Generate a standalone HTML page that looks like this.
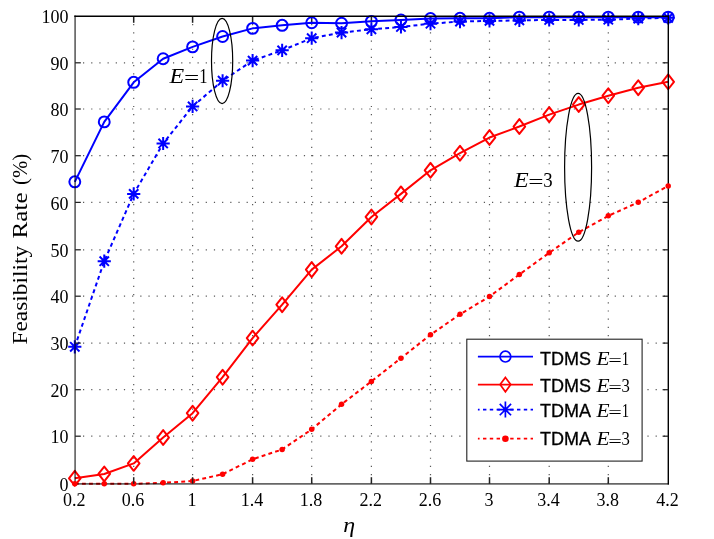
<!DOCTYPE html>
<html><head><meta charset="utf-8"><title>Feasibility Rate</title>
<style>html,body{margin:0;padding:0;background:#fff;}svg{display:block;will-change:transform;}text{font-family:"Liberation Serif",serif;fill:#000;}.sans{font-family:"Liberation Sans",sans-serif;}</style></head><body>
<svg width="714" height="539" viewBox="0 0 714 539">
<rect x="0" y="0" width="714" height="539" fill="#fff"/>
<g stroke="#5a5a5a" stroke-width="1.2" stroke-dasharray="1.2 6.98" fill="none">
<line x1="83.00" y1="436.20" x2="668.30" y2="436.20"/>
<line x1="83.00" y1="389.70" x2="668.30" y2="389.70"/>
<line x1="83.00" y1="343.10" x2="668.30" y2="343.10"/>
<line x1="83.00" y1="296.20" x2="668.30" y2="296.20"/>
<line x1="83.00" y1="249.80" x2="668.30" y2="249.80"/>
<line x1="83.00" y1="202.40" x2="668.30" y2="202.40"/>
<line x1="83.00" y1="155.70" x2="668.30" y2="155.70"/>
<line x1="83.00" y1="109.00" x2="668.30" y2="109.00"/>
<line x1="83.00" y1="62.80" x2="668.30" y2="62.80"/>
<line x1="133.70" y1="24.10" x2="133.70" y2="483.80"/>
<line x1="192.60" y1="24.10" x2="192.60" y2="483.80"/>
<line x1="252.60" y1="24.10" x2="252.60" y2="483.80"/>
<line x1="311.70" y1="24.10" x2="311.70" y2="483.80"/>
<line x1="371.40" y1="24.10" x2="371.40" y2="483.80"/>
<line x1="430.50" y1="24.10" x2="430.50" y2="483.80"/>
<line x1="489.50" y1="24.10" x2="489.50" y2="483.80"/>
<line x1="549.20" y1="24.10" x2="549.20" y2="483.80"/>
<line x1="608.30" y1="24.10" x2="608.30" y2="483.80"/>
</g>
<g font-size="18" text-anchor="end">
<text x="68.4" y="491.00">0</text>
<text x="68.4" y="443.40">10</text>
<text x="68.4" y="396.90">20</text>
<text x="68.4" y="350.30">30</text>
<text x="68.4" y="303.40">40</text>
<text x="68.4" y="257.00">50</text>
<text x="68.4" y="209.60">60</text>
<text x="68.4" y="162.90">70</text>
<text x="68.4" y="116.20">80</text>
<text x="68.4" y="70.00">90</text>
<text x="68.4" y="23.40">100</text>
</g>
<g font-size="18" text-anchor="middle">
<text x="74.20" y="506">0.2</text>
<text x="133.10" y="506">0.6</text>
<text x="192.00" y="506">1</text>
<text x="252.00" y="506">1.4</text>
<text x="311.10" y="506">1.8</text>
<text x="370.80" y="506">2.2</text>
<text x="429.90" y="506">2.6</text>
<text x="488.90" y="506">3</text>
<text x="548.60" y="506">3.4</text>
<text x="607.70" y="506">3.8</text>
<text x="667.60" y="506">4.2</text>
</g>
<g stroke="#222" stroke-width="1.5" fill="none">
<line x1="133.70" y1="16.20" x2="133.70" y2="22.80"/>
<line x1="192.60" y1="16.20" x2="192.60" y2="22.80"/>
<line x1="252.60" y1="16.20" x2="252.60" y2="22.80"/>
<line x1="311.70" y1="16.20" x2="311.70" y2="22.80"/>
<line x1="371.40" y1="16.20" x2="371.40" y2="22.80"/>
<line x1="430.50" y1="16.20" x2="430.50" y2="22.80"/>
<line x1="489.50" y1="16.20" x2="489.50" y2="22.80"/>
<line x1="549.20" y1="16.20" x2="549.20" y2="22.80"/>
<line x1="608.30" y1="16.20" x2="608.30" y2="22.80"/>
</g>
<g fill="none" stroke-width="2.0" stroke-linejoin="round">
<polyline points="74.80,181.82 104.25,121.88 133.70,82.32 163.15,58.75 192.60,46.83 222.60,36.49 252.60,28.36 282.15,25.32 311.70,22.75 341.55,23.21 371.40,21.34 400.95,19.94 430.50,18.54 460.00,18.30 489.50,18.30 519.35,17.14 549.20,17.14 578.75,17.14 608.30,17.14 638.25,17.14 668.20,17.14" stroke="#00f"/>
<g stroke="#00f"><circle cx="74.80" cy="181.82" r="5.45"/><circle cx="104.25" cy="121.88" r="5.45"/><circle cx="133.70" cy="82.32" r="5.45"/><circle cx="163.15" cy="58.75" r="5.45"/><circle cx="192.60" cy="46.83" r="5.45"/><circle cx="222.60" cy="36.49" r="5.45"/><circle cx="252.60" cy="28.36" r="5.45"/><circle cx="282.15" cy="25.32" r="5.45"/><circle cx="311.70" cy="22.75" r="5.45"/><circle cx="341.55" cy="23.21" r="5.45"/><circle cx="371.40" cy="21.34" r="5.45"/><circle cx="400.95" cy="19.94" r="5.45"/><circle cx="430.50" cy="18.54" r="5.45"/><circle cx="460.00" cy="18.30" r="5.45"/><circle cx="489.50" cy="18.30" r="5.45"/><circle cx="519.35" cy="17.14" r="5.45"/><circle cx="549.20" cy="17.14" r="5.45"/><circle cx="578.75" cy="17.14" r="5.45"/><circle cx="608.30" cy="17.14" r="5.45"/><circle cx="638.25" cy="17.14" r="5.45"/><circle cx="668.20" cy="17.14" r="5.45"/></g>
<polyline points="74.80,478.28 104.25,473.98 133.70,463.41 163.15,437.51 192.60,413.19 222.60,377.19 252.60,338.10 282.15,304.71 311.70,269.64 341.55,246.26 371.40,216.99 400.95,193.89 430.50,170.32 460.00,153.21 489.50,137.54 519.35,126.55 549.20,114.63 578.75,104.58 608.30,95.69 638.25,87.74 668.20,81.85" stroke="#f00"/>
<g stroke="#f00"><path d="M74.80 470.88L80.60 478.28L74.80 485.68L69.00 478.28Z"/><path d="M104.25 466.58L110.05 473.98L104.25 481.38L98.45 473.98Z"/><path d="M133.70 456.01L139.50 463.41L133.70 470.81L127.90 463.41Z"/><path d="M163.15 430.11L168.95 437.51L163.15 444.91L157.35 437.51Z"/><path d="M192.60 405.79L198.40 413.19L192.60 420.59L186.80 413.19Z"/><path d="M222.60 369.79L228.40 377.19L222.60 384.59L216.80 377.19Z"/><path d="M252.60 330.70L258.40 338.10L252.60 345.50L246.80 338.10Z"/><path d="M282.15 297.31L287.95 304.71L282.15 312.11L276.35 304.71Z"/><path d="M311.70 262.24L317.50 269.64L311.70 277.04L305.90 269.64Z"/><path d="M341.55 238.86L347.35 246.26L341.55 253.66L335.75 246.26Z"/><path d="M371.40 209.59L377.20 216.99L371.40 224.39L365.60 216.99Z"/><path d="M400.95 186.49L406.75 193.89L400.95 201.29L395.15 193.89Z"/><path d="M430.50 162.92L436.30 170.32L430.50 177.72L424.70 170.32Z"/><path d="M460.00 145.81L465.80 153.21L460.00 160.61L454.20 153.21Z"/><path d="M489.50 130.14L495.30 137.54L489.50 144.94L483.70 137.54Z"/><path d="M519.35 119.15L525.15 126.55L519.35 133.95L513.55 126.55Z"/><path d="M549.20 107.23L555.00 114.63L549.20 122.03L543.40 114.63Z"/><path d="M578.75 97.18L584.55 104.58L578.75 111.98L572.95 104.58Z"/><path d="M608.30 88.29L614.10 95.69L608.30 103.09L602.50 95.69Z"/><path d="M638.25 80.34L644.05 87.74L638.25 95.14L632.45 87.74Z"/><path d="M668.20 74.45L674.00 81.85L668.20 89.25L662.40 81.85Z"/></g>
<polyline points="74.80,346.79 104.25,261.22 133.70,193.89 163.15,143.48 192.60,106.45 222.60,80.73 252.60,60.62 282.15,50.33 311.70,38.18 341.55,32.57 371.40,29.29 400.95,26.95 430.50,23.68 460.00,21.58 489.50,20.88 519.35,20.41 549.20,19.94 578.75,19.94 608.30,19.71 638.25,18.54 668.20,17.84" stroke="#00f" stroke-dasharray="3.9 3.2"/>
<g stroke="#00f"><path d="M68.20 346.79H81.40M74.80 340.19V353.39M70.13 342.13L79.47 351.46M70.13 351.46L79.47 342.13"/><path d="M97.65 261.22H110.85M104.25 254.62V267.82M99.58 256.56L108.92 265.89M99.58 265.89L108.92 256.56"/><path d="M127.10 193.89H140.30M133.70 187.29V200.49M129.03 189.22L138.37 198.55M129.03 198.55L138.37 189.22"/><path d="M156.55 143.48H169.75M163.15 136.88V150.08M158.48 138.81L167.82 148.15M158.48 148.15L167.82 138.81"/><path d="M186.00 106.45H199.20M192.60 99.85V113.05M187.93 101.78L197.27 111.11M187.93 111.11L197.27 101.78"/><path d="M216.00 80.73H229.20M222.60 74.13V87.33M217.93 76.06L227.27 85.40M217.93 85.40L227.27 76.06"/><path d="M246.00 60.62H259.20M252.60 54.02V67.22M247.93 55.96L257.27 65.29M247.93 65.29L257.27 55.96"/><path d="M275.55 50.33H288.75M282.15 43.73V56.93M277.48 45.67L286.82 55.00M277.48 55.00L286.82 45.67"/><path d="M305.10 38.18H318.30M311.70 31.58V44.78M307.03 33.51L316.37 42.84M307.03 42.84L316.37 33.51"/><path d="M334.95 32.57H348.15M341.55 25.97V39.17M336.88 27.90L346.22 37.23M336.88 37.23L346.22 27.90"/><path d="M364.80 29.29H378.00M371.40 22.69V35.89M366.73 24.63L376.07 33.96M366.73 33.96L376.07 24.63"/><path d="M394.35 26.95H407.55M400.95 20.35V33.55M396.28 22.29L405.62 31.62M396.28 31.62L405.62 22.29"/><path d="M423.90 23.68H437.10M430.50 17.08V30.28M425.83 19.01L435.17 28.35M425.83 28.35L435.17 19.01"/><path d="M453.40 21.58H466.60M460.00 14.98V28.18M455.33 16.91L464.67 26.24M455.33 26.24L464.67 16.91"/><path d="M482.90 20.88H496.10M489.50 14.28V27.48M484.83 16.21L494.17 25.54M484.83 25.54L494.17 16.21"/><path d="M512.75 20.41H525.95M519.35 13.81V27.01M514.68 15.74L524.02 25.08M514.68 25.08L524.02 15.74"/><path d="M542.60 19.94H555.80M549.20 13.34V26.54M544.53 15.27L553.87 24.61M544.53 24.61L553.87 15.27"/><path d="M572.15 19.94H585.35M578.75 13.34V26.54M574.08 15.27L583.42 24.61M574.08 24.61L583.42 15.27"/><path d="M601.70 19.71H614.90M608.30 13.11V26.31M603.63 15.04L612.97 24.37M603.63 24.37L612.97 15.04"/><path d="M631.65 18.54H644.85M638.25 11.94V25.14M633.58 13.87L642.92 23.20M633.58 23.20L642.92 13.87"/><path d="M661.60 17.84H674.80M668.20 11.24V24.44M663.53 13.17L672.87 22.50M663.53 22.50L672.87 13.17"/></g>
<polyline points="74.80,483.80 104.25,483.80 133.70,483.80 163.15,482.86 192.60,480.99 222.60,474.21 252.60,459.30 282.15,449.48 311.70,429.37 341.55,404.31 371.40,381.40 400.95,358.16 430.50,334.78 460.00,314.30 489.50,296.53 519.35,274.50 549.20,252.81 578.75,232.23 608.30,215.87 638.25,202.30 668.20,185.94" stroke="#f00" stroke-dasharray="3.9 3.2"/>
</g>
<g stroke="#000" fill="none">
<line x1="75.10" y1="15.40" x2="75.10" y2="484.60" stroke="#000" stroke-opacity="0.6" stroke-width="1.7"/>
<line x1="74.30" y1="483.80" x2="669.00" y2="483.80" stroke="#000" stroke-opacity="0.6" stroke-width="1.7"/>
<line x1="74.30" y1="16.20" x2="669.00" y2="16.20" stroke-width="1.6"/>
<line x1="668.30" y1="15.40" x2="668.30" y2="484.60" stroke-width="1.4"/>
</g>
<g fill="#f00" stroke="none"><circle cx="74.80" cy="483.80" r="2.75"/><circle cx="104.25" cy="483.80" r="2.75"/><circle cx="133.70" cy="483.80" r="2.75"/><circle cx="163.15" cy="482.86" r="2.75"/><circle cx="192.60" cy="480.99" r="2.75"/><circle cx="222.60" cy="474.21" r="2.75"/><circle cx="252.60" cy="459.30" r="2.75"/><circle cx="282.15" cy="449.48" r="2.75"/><circle cx="311.70" cy="429.37" r="2.75"/><circle cx="341.55" cy="404.31" r="2.75"/><circle cx="371.40" cy="381.40" r="2.75"/><circle cx="400.95" cy="358.16" r="2.75"/><circle cx="430.50" cy="334.78" r="2.75"/><circle cx="460.00" cy="314.30" r="2.75"/><circle cx="489.50" cy="296.53" r="2.75"/><circle cx="519.35" cy="274.50" r="2.75"/><circle cx="549.20" cy="252.81" r="2.75"/><circle cx="578.75" cy="232.23" r="2.75"/><circle cx="608.30" cy="215.87" r="2.75"/><circle cx="638.25" cy="202.30" r="2.75"/><circle cx="668.20" cy="185.94" r="2.75"/></g>
<g stroke="#222" stroke-width="1.5" fill="none">
<line x1="75.10" y1="436.20" x2="80.80" y2="436.20" stroke-width="1.25"/>
<line x1="668.30" y1="436.20" x2="662.60" y2="436.20" stroke-width="1.25"/>
<line x1="75.10" y1="389.70" x2="80.80" y2="389.70" stroke-width="1.25"/>
<line x1="668.30" y1="389.70" x2="662.60" y2="389.70" stroke-width="1.25"/>
<line x1="75.10" y1="343.10" x2="80.80" y2="343.10" stroke-width="1.25"/>
<line x1="668.30" y1="343.10" x2="662.60" y2="343.10" stroke-width="1.25"/>
<line x1="75.10" y1="296.20" x2="80.80" y2="296.20" stroke-width="1.25"/>
<line x1="668.30" y1="296.20" x2="662.60" y2="296.20" stroke-width="1.25"/>
<line x1="75.10" y1="249.80" x2="80.80" y2="249.80" stroke-width="1.25"/>
<line x1="668.30" y1="249.80" x2="662.60" y2="249.80" stroke-width="1.25"/>
<line x1="75.10" y1="202.40" x2="80.80" y2="202.40" stroke-width="1.25"/>
<line x1="668.30" y1="202.40" x2="662.60" y2="202.40" stroke-width="1.25"/>
<line x1="75.10" y1="155.70" x2="80.80" y2="155.70" stroke-width="1.25"/>
<line x1="668.30" y1="155.70" x2="662.60" y2="155.70" stroke-width="1.25"/>
<line x1="75.10" y1="109.00" x2="80.80" y2="109.00" stroke-width="1.25"/>
<line x1="668.30" y1="109.00" x2="662.60" y2="109.00" stroke-width="1.25"/>
<line x1="75.10" y1="62.80" x2="80.80" y2="62.80" stroke-width="1.25"/>
<line x1="668.30" y1="62.80" x2="662.60" y2="62.80" stroke-width="1.25"/>
<line x1="133.70" y1="483.80" x2="133.70" y2="477.20"/>
<line x1="192.60" y1="483.80" x2="192.60" y2="477.20"/>
<line x1="252.60" y1="483.80" x2="252.60" y2="477.20"/>
<line x1="311.70" y1="483.80" x2="311.70" y2="477.20"/>
<line x1="371.40" y1="483.80" x2="371.40" y2="477.20"/>
<line x1="430.50" y1="483.80" x2="430.50" y2="477.20"/>
<line x1="489.50" y1="483.80" x2="489.50" y2="477.20"/>
<line x1="549.20" y1="483.80" x2="549.20" y2="477.20"/>
<line x1="608.30" y1="483.80" x2="608.30" y2="477.20"/>
</g>
<g fill="none" stroke="#000" stroke-width="1.2">
<ellipse cx="222.1" cy="61.0" rx="10.6" ry="42.6"/>
<ellipse cx="578.1" cy="167.3" rx="13.5" ry="73.9"/>
</g>
<rect x="167.5" y="64.2" width="41" height="24.3" fill="#fff"/>
<rect x="512" y="165.5" width="41.5" height="29" fill="#fff"/>
<g font-size="20.2" fill="#3c3c3c"><text transform="translate(169.60 82.70) scale(1.19 1)" font-style="italic">E</text><text transform="translate(183.90 84.20) scale(1.34 0.9)">=</text><text transform="translate(199.30 82.70) scale(0.82 1)">1</text></g>
<g font-size="20.2" fill="#000"><text transform="translate(513.90 186.70) scale(1.19 1)" font-style="italic">E</text><text transform="translate(528.20 188.20) scale(1.34 0.9)">=</text><text transform="translate(543.20 186.70) scale(0.93 1)">3</text></g>
<rect x="466.8" y="339.2" width="175.3" height="121.9" fill="#fff" stroke="#222" stroke-width="1.1"/>
<g fill="none" stroke-width="1.7">
<line x1="477.9" y1="356.6" x2="533.0" y2="356.6" stroke="#00f"/><g stroke="#00f"><circle cx="505.40" cy="356.60" r="5.4"/></g>
<line x1="477.9" y1="384.6" x2="533.0" y2="384.6" stroke="#f00"/><g stroke="#f00"><path d="M505.40 377.40L510.70 384.60L505.40 391.80L500.10 384.60Z"/></g>
<line x1="477.9" y1="409.6" x2="533.0" y2="409.6" stroke="#00f" stroke-dasharray="3.4 3.4" stroke-dashoffset="1.7"/><g stroke="#00f"><path d="M497.40 409.60H513.40M505.40 401.60V417.60M499.74 403.94L511.06 415.26M499.74 415.26L511.06 403.94"/></g>
<line x1="477.9" y1="438.7" x2="533.0" y2="438.7" stroke="#f00" stroke-dasharray="3.4 3.4" stroke-dashoffset="1.7"/><g fill="#f00" stroke="none"><circle cx="505.40" cy="438.70" r="3.3"/></g>
</g>
<text class="sans" x="539.95" y="364.50" font-size="18" stroke="#000" stroke-width="0.3">TDMS</text>
<g font-size="18" fill="#000"><text transform="translate(596.40 364.50) scale(1.19 1)" font-style="italic">E</text><text transform="translate(608.14 365.84) scale(1.34 0.9)">=</text><text transform="translate(621.87 364.50) scale(0.82 1)">1</text></g>
<text class="sans" x="539.95" y="391.80" font-size="18" stroke="#000" stroke-width="0.3">TDMS</text>
<g font-size="18" fill="#000"><text transform="translate(596.40 391.80) scale(1.19 1)" font-style="italic">E</text><text transform="translate(608.14 393.14) scale(1.34 0.9)">=</text><text transform="translate(621.51 391.80) scale(0.93 1)">3</text></g>
<text class="sans" x="539.95" y="417.00" font-size="18" stroke="#000" stroke-width="0.3">TDMA</text>
<g font-size="18" fill="#000"><text transform="translate(596.40 417.00) scale(1.19 1)" font-style="italic">E</text><text transform="translate(608.14 418.34) scale(1.34 0.9)">=</text><text transform="translate(621.87 417.00) scale(0.82 1)">1</text></g>
<text class="sans" x="539.95" y="445.30" font-size="18" stroke="#000" stroke-width="0.3">TDMA</text>
<g font-size="18" fill="#000"><text transform="translate(596.40 445.30) scale(1.19 1)" font-style="italic">E</text><text transform="translate(608.14 446.64) scale(1.34 0.9)">=</text><text transform="translate(621.51 445.30) scale(0.93 1)">3</text></g>
<text transform="translate(343.2 532.3) scale(1.14 1)" font-size="21" font-style="italic">η</text>
<g font-size="21">
<text transform="translate(27.1 344.5) rotate(-90) scale(1.113 1)">Feasibility</text>
<text transform="translate(27.1 238.4) rotate(-90) scale(1.195 1)">Rate</text>
<text transform="translate(27.1 184.9) rotate(-90) scale(0.99 1)">(%)</text>
</g>
</svg></body></html>
